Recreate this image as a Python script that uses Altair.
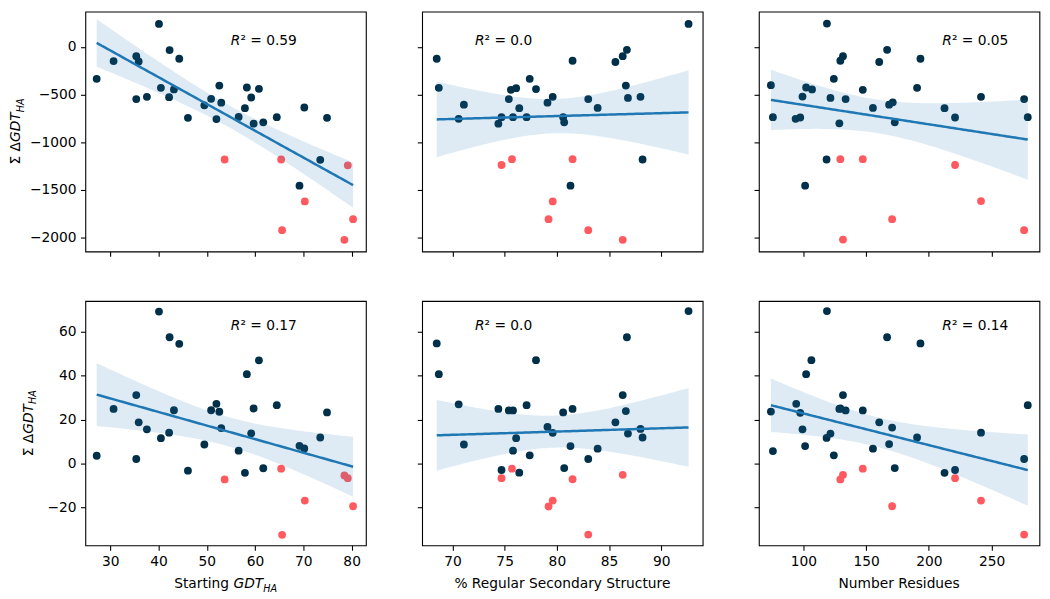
import altair as alt
import pandas as pd

# ---------------- data ----------------
# Left column: Starting GDT_HA (same proteins in both rows)
GDT_DARK = [27.2, 30.7, 35.4, 35.9, 35.4, 37.6, 40.1, 40.5, 42.3, 42.2, 43.2, 44.3, 46.1, 49.5, 50.9,
            52.0, 52.6, 53.0, 56.6, 57.9, 58.3, 59.2, 59.7, 60.8, 61.7, 64.5, 70.2, 69.2, 73.5, 74.9]
GDT_RED = [53.7, 65.4, 70.3, 65.6, 78.5, 80.3, 79.2]
TL_Y_DARK = [-336, -149, -98, -153, -549, -525, 241, -430, -34, -529, -447, -125, -746, -614, -546,
             -759, -407, -586, -736, -644, -427, -532, -807, -441, -793, -739, -637, -1458, -1187, -746]
TL_Y_RED = [-1183, -1183, -1624, -1926, -2027, -1810, -1244]
BL_Y_DARK = [3.6, 24.9, 31.2, 18.8, 2.1, 15.6, 69.2, 11.6, 57.5, 14.1, 24.3, 54.5, -3.2, 8.7, 24.3,
             27.2, 23.6, 16.2, 5.9, -4.2, 40.7, 13.8, 25.1, 47.0, -2.1, 26.6, 6.9, 8.1, 11.9, 23.3]
BL_Y_RED = [-7.2, -2.3, -16.8, -32.4, -5.4, -19.4, -6.6]

# Middle column: % Regular Secondary Structure
TM_X_DARK = [68.5, 68.7, 70.6, 71.1, 74.4, 74.7, 75.4, 75.6, 76.1, 75.8, 76.4, 77.1, 77.4, 78.0, 79.1,
             79.6, 80.6, 80.7, 81.5, 81.3, 83.0, 83.9, 85.6, 86.3, 86.7, 86.6, 86.8, 88.0, 88.2, 92.6]
TM_Y_DARK = [-125, -430, -756, -607, -807, -739, -549, -451, -434, -739, -644, -739, -336, -444, -586,
             -525, -739, -793, -146, -1458, -549, -641, -159, -98, -31, -407, -536, -525, -1183, 241]
TM_X_RED = [74.7, 75.7, 81.5, 79.6, 79.2, 83.0, 86.3]
TM_Y_RED = [-1241, -1180, -1180, -1624, -1810, -1926, -2027]
BM_X_DARK = [68.5, 68.7, 70.6, 71.1, 74.4, 74.7, 75.4, 75.8, 76.1, 75.8, 76.4, 77.1, 78.0, 77.4, 79.1,
             79.6, 80.6, 80.7, 81.5, 81.3, 83.0, 83.9, 85.6, 86.3, 86.7, 86.6, 86.8, 88.0, 88.2, 92.6]
BM_Y_DARK = [54.7, 40.7, 27.0, 8.7, 24.9, -2.9, 24.2, 24.2, 11.6, 5.9, -4.1, 26.6, 47.1, 3.8, 16.7,
             14.0, 23.3, -2.0, 24.9, 8.0, 2.1, 6.8, 18.8, 31.2, 57.5, 23.9, 13.7, 15.8, 11.9, 69.4]
BM_X_RED = [74.7, 75.7, 81.5, 79.6, 79.2, 83.0, 86.3]
BM_Y_RED = [-6.6, -2.3, -7.1, -16.8, -19.5, -32.3, -5.1]

# Right column: Number Residues
TR_X_DARK = [74.0, 75.6, 99.2, 93.7, 97.4, 102.1, 106.8, 101.3, 118.7, 118.4, 121.5, 124.2, 128.6, 129.4, 131.5,
             133.6, 147.3, 155.4, 160.4, 166.7, 168.3, 171.2, 172.8, 190.6, 193.3, 212.5, 220.9, 241.6, 276.0, 278.9]
TR_Y_DARK = [-403, -739, -522, -756, -742, -427, -447, -1458, 244, -1183, -536, -336, -803, -146, -98,
             -549, -451, -641, -159, -31, -607, -583, -793, -430, -125, -644, -742, -525, -549, -739]
TR_X_RED = [129.4, 147.3, 220.9, 241.6, 170.7, 131.5, 276.0]
TR_Y_RED = [-1180, -1180, -1241, -1620, -1810, -2024, -1926]
BR_X_DARK = [74.0, 75.6, 99.2, 94.2, 97.4, 102.1, 106.3, 101.3, 118.7, 118.4, 121.5, 124.2, 128.6, 129.4, 131.5,
             133.6, 147.3, 155.4, 160.4, 166.7, 168.3, 170.7, 172.8, 190.6, 193.3, 212.5, 220.9, 241.6, 276.0, 278.9]
BR_Y_DARK = [23.7, 5.7, 15.6, 27.2, 23.1, 40.7, 47.1, 8.0, 69.4, 11.7, 13.7, 3.8, 24.9, 25.1, 31.2,
             24.2, 24.2, 6.8, 18.8, 57.5, 8.9, 16.4, -2.0, 11.9, 54.7, -4.2, -2.9, 14.1, 2.1, 26.6]
BR_X_RED = [129.4, 131.5, 147.3, 220.9, 170.7, 241.6, 276.0]
BR_Y_RED = [-7.2, -5.1, -2.3, -6.6, -19.4, -16.8, -32.3]

R2_TEXT = ["0.59", "0.0", "0.05", "0.17", "0.0", "0.14"]
X_TICKS = [[30, 40, 50, 60, 70, 80], [70, 75, 80, 85, 90], [100, 150, 200, 250]]
Y_TICKS = [[0, -500, -1000, -1500, -2000], [60, 40, 20, 0, -20]]
X_DOMAINS = [[24.85, 82.95], [67.1, 93.95], [64.4, 288.2]]
Y_DOMAINS = [[-2149, 371], [-37.2, 74.0]]
X_TITLES = ["% Regular Secondary Structure", "Number Residues"]

# ---------------- style ----------------
DARK = "#003049"
RED = "#ff5a5f"
LINE = "#1f77b4"
FONT = "DejaVu Sans"
FS = 13.9
SUB = 9.7
W = 283
HEIGHTS = [242, 246.5]
R2_X = [146.7, 53.3, 185.0]
R2_Y = [33.5, 29.4]
YTITLE_X = [-65.8, -52.8]


def make_df(xd, yd, xr, yr):
    return pd.DataFrame({
        "x": list(xd) + list(xr),
        "y": list(yd) + list(yr),
        "grp": ["dark"] * len(xd) + ["red"] * len(xr),
    })


def txt(s, x, y, size=FS, italic=False, **kw):
    return alt.Chart(pd.DataFrame({"t": [s]})).mark_text(
        font=FONT, fontSize=size, color="black",
        fontStyle="italic" if italic else "normal", **kw
    ).encode(x=alt.value(x), y=alt.value(y), text="t:N")


def panel(df, col, row, r2):
    H = HEIGHTS[row]
    xs = alt.Scale(domain=X_DOMAINS[col], nice=False, zero=False)
    ys = alt.Scale(domain=Y_DOMAINS[row], nice=False, zero=False)
    xax = alt.Axis(values=X_TICKS[col], labels=(row == 1), title=None, format="d")
    yax = alt.Axis(values=Y_TICKS[row], labels=(col == 0), title=None, format="d")
    base = alt.Chart(df)
    pts = base.mark_circle(size=62, opacity=1).encode(
        x=alt.X("x:Q", scale=xs, axis=xax),
        y=alt.Y("y:Q", scale=ys, axis=yax),
        color=alt.Color("grp:N", scale=alt.Scale(domain=["dark", "red"], range=[DARK, RED]), legend=None),
    )
    reg = (
        base.transform_joinaggregate(mx="mean(x)", my="mean(y)", n="count()")
        .transform_calculate(dxx="(datum.x-datum.mx)*(datum.x-datum.mx)")
        .transform_calculate(dxy="(datum.x-datum.mx)*(datum.y-datum.my)")
        .transform_calculate(dyy="(datum.y-datum.my)*(datum.y-datum.my)")
        .transform_aggregate(sxx="sum(dxx)", sxy="sum(dxy)", syy="sum(dyy)", mx="max(mx)",
                             my="max(my)", n="max(n)", xmin="min(x)", xmax="max(x)")
        .transform_calculate(g="sequence(0, 101)")
        .transform_flatten(["g"])
        .transform_calculate(xg="datum.xmin + datum.g*(datum.xmax-datum.xmin)/100")
        .transform_calculate(b="datum.sxy/datum.sxx")
        .transform_calculate(fit="datum.my + datum.b*(datum.xg-datum.mx)")
        .transform_calculate(s2="(datum.syy - datum.b*datum.sxy)/(datum.n-2)")
        .transform_calculate(se="sqrt(datum.s2*(1/datum.n + (datum.xg-datum.mx)*(datum.xg-datum.mx)/datum.sxx))")
        .transform_calculate(lo="datum.fit - 2.03*datum.se", hi="datum.fit + 2.03*datum.se")
    )
    band = reg.mark_area(color=LINE, opacity=0.15).encode(
        x=alt.X("xg:Q", scale=xs, axis=xax),
        y=alt.Y("lo:Q", scale=ys, axis=yax),
        y2="hi:Q",
    )
    line = reg.mark_line(color=LINE, strokeWidth=2.5).encode(
        x=alt.X("xg:Q", scale=xs, axis=xax),
        y=alt.Y("fit:Q", scale=ys, axis=yax),
    )
    layers = [pts, band, line]
    rx, ry = R2_X[col], R2_Y[row]
    layers.append(txt("R", rx, ry, italic=True, align="left", baseline="alphabetic"))
    layers.append(txt("\u00b2 = " + r2, rx + 9.7, ry, align="left", baseline="alphabetic"))
    if col == 0:
        yx = YTITLE_X[row]
        common = dict(angle=270, align="left", baseline="alphabetic")
        layers.append(txt("\u03a3 \u0394", yx, H / 2, dx=-33.3, **common))
        layers.append(txt("GDT", yx, H / 2, italic=True, dx=-10.6, **common))
        layers.append(txt("HA", yx, H / 2, size=SUB, italic=True, dx=19.4, dy=3.5, **common))
    if row == 1:
        ty = H + 43.2
        if col == 0:
            layers.append(txt("Starting ", W / 2, ty, align="left", baseline="alphabetic", dx=-51.9))
            layers.append(txt("GDT", W / 2, ty, italic=True, align="left", baseline="alphabetic", dx=8.0))
            layers.append(txt("HA", W / 2, ty, size=SUB, italic=True, align="left",
                              baseline="alphabetic", dx=38.0, dy=3.5))
        else:
            layers.append(txt(X_TITLES[col - 1], W / 2, ty, align="center", baseline="alphabetic"))
    return alt.layer(*layers).properties(width=W, height=H)


panels = [
    panel(make_df(GDT_DARK, TL_Y_DARK, GDT_RED, TL_Y_RED), 0, 0, R2_TEXT[0]),
    panel(make_df(TM_X_DARK, TM_Y_DARK, TM_X_RED, TM_Y_RED), 1, 0, R2_TEXT[1]),
    panel(make_df(TR_X_DARK, TR_Y_DARK, TR_X_RED, TR_Y_RED), 2, 0, R2_TEXT[2]),
    panel(make_df(GDT_DARK, BL_Y_DARK, GDT_RED, BL_Y_RED), 0, 1, R2_TEXT[3]),
    panel(make_df(BM_X_DARK, BM_Y_DARK, BM_X_RED, BM_Y_RED), 1, 1, R2_TEXT[4]),
    panel(make_df(BR_X_DARK, BR_Y_DARK, BR_X_RED, BR_Y_RED), 2, 1, R2_TEXT[5]),
]

chart = (
    alt.concat(*panels, columns=3, spacing={"row": 50, "column": 56.7}, bounds="flush")
    .properties(padding={"left": 0, "top": 0, "right": 2, "bottom": 0})
    .configure_view(stroke="black", strokeWidth=1.1)
    .configure_axis(
        domain=False, grid=False, ticks=True, tickColor="black", tickSize=4.86, tickWidth=1.1,
        labelFont=FONT, labelFontSize=FS, labelColor="black", labelPadding=4.5,
        labelOverlap=False, labelFlush=False, labelBound=False,
    )
)

chart.save("out.html", embed_options={"renderer": "svg", "actions": False})
